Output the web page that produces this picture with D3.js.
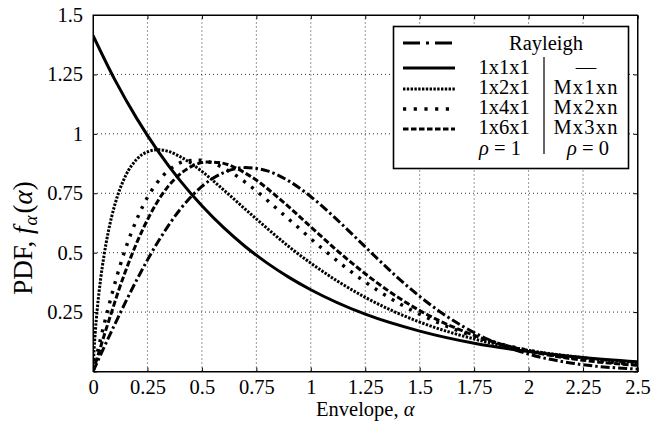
<!DOCTYPE html>
<html>
<head>
<meta charset="utf-8">
<script src="https://cdn.jsdelivr.net/npm/d3@7"></script>
<style>
  body { margin: 0; background: #fff; }
  text { font-family: "Liberation Serif", "Times New Roman", serif; fill: #000; }
</style>
</head>
<body>
<div id="chart"></div>
<script>
// Chart dimensions and margins.
const width = 652;
const height = 425;
const margin = { top: 15, right: 14.5, bottom: 53.5, left: 93 };

// Tick values
const xTicks = [0, 0.25, 0.5, 0.75, 1, 1.25, 1.5, 1.75, 2, 2.25, 2.5];
const yTicks = [0.25, 0.5, 0.75, 1, 1.25, 1.5];

// Curves, [alpha, pdf]
const rayleigh = [[0,0],[0.1,0.198],[0.2,0.384],[0.3,0.548],[0.4,0.682],[0.5,0.779],[0.6,0.837],[0.7,0.858],[0.8,0.844],[0.9,0.801],[1.0,0.736],[1.1,0.656],[1.2,0.569],[1.3,0.480],[1.4,0.394],[1.5,0.316],[1.6,0.247],[1.7,0.189],[1.8,0.141],[1.9,0.103],[2.0,0.073],[2.2,0.035],[2.5,0.010]];
const s1x1x1 = [[0,1.414],[0.1,1.228],[0.2,1.066],[0.3,0.925],[0.4,0.803],[0.5,0.697],[0.6,0.605],[0.7,0.525],[0.8,0.456],[0.9,0.396],[1.0,0.344],[1.25,0.241],[1.5,0.170],[1.75,0.119],[2.0,0.084],[2.25,0.059],[2.5,0.041]];
const s1x2x1 = [[0,0],[0.005,0.094],[0.01,0.161],[0.02,0.267],[0.035,0.389],[0.05,0.485],[0.07,0.587],[0.1,0.701],[0.15,0.824],[0.2,0.892],[0.25,0.924],[0.3,0.933],[0.35,0.925],[0.4,0.904],[0.45,0.876],[0.5,0.842],[0.6,0.764],[0.7,0.682],[0.8,0.602],[0.9,0.525],[1.0,0.456],[1.25,0.312],[1.5,0.208],[1.75,0.137],[2.0,0.089],[2.25,0.058],[2.5,0.037]];
const s1x4x1 = [[0,0],[0.035,0.139],[0.071,0.270],[0.106,0.389],[0.141,0.494],[0.177,0.586],[0.212,0.663],[0.247,0.728],[0.283,0.780],[0.318,0.821],[0.354,0.851],[0.424,0.885],[0.495,0.889],[0.566,0.871],[0.636,0.837],[0.707,0.791],[0.884,0.653],[1.061,0.511],[1.237,0.385],[1.414,0.282],[1.591,0.203],[1.768,0.143],[1.945,0.100],[2.121,0.068],[2.5,0.030]];
const s1x6x1 = [[0,0],[0.029,0.086],[0.058,0.172],[0.087,0.254],[0.115,0.334],[0.144,0.409],[0.173,0.479],[0.202,0.544],[0.231,0.603],[0.260,0.656],[0.289,0.704],[0.346,0.780],[0.404,0.834],[0.462,0.867],[0.520,0.881],[0.577,0.879],[0.722,0.822],[0.866,0.719],[1.010,0.600],[1.155,0.482],[1.299,0.377],[1.443,0.287],[1.732,0.158],[2.021,0.082],[2.309,0.041],[2.5,0.026]];

// Legend rows: [left label, right label]
const legendRows = [
  { data: rayleigh, left: "Rayleigh", right: null },
  { data: s1x1x1, left: "1x1x1", right: "\u2014" },
  { data: s1x2x1, left: "1x2x1", right: "Mx1xn" },
  { data: s1x4x1, left: "1x4x1", right: "Mx2xn" },
  { data: s1x6x1, left: "1x6x1", right: "Mx3xn" }
];

const styles = new Map([
  [rayleigh, { dash: "9,3,2.5,3", legendDash: "17,6,3,6,17,10", w: 3 }],
  [s1x1x1, { dash: null, legendDash: null, w: 3 }],
  [s1x2x1, { dash: "2.4,1.4", legendDash: "2.4,1.4", w: 3 }],
  [s1x4x1, { dash: "3,7", legendDash: "3.2,7.5", w: 3.4 }],
  [s1x6x1, { dash: "6,2.5", legendDash: "5.5,2.5", w: 3 }]
]);

const svg = d3.select("#chart").append("svg")
  .attr("width", width)
  .attr("height", height);

const x = d3.scaleLinear().domain([0, 2.5]).range([margin.left, width - margin.right]);
const y = d3.scaleLinear().domain([0, 1.5]).range([height - margin.bottom, margin.top]);

// Grid
svg.append("g").selectAll("line")
  .data(xTicks.slice(1, -1))
  .join("line")
  .attr("x1", d => x(d)).attr("x2", d => x(d))
  .attr("y1", y(0)).attr("y2", y(1.5))
  .attr("stroke", "#333").attr("stroke-width", 1).attr("stroke-dasharray", "1,3");

svg.append("g").selectAll("line")
  .data(yTicks.slice(0, -1))
  .join("line")
  .attr("x1", x(0)).attr("x2", x(2.5))
  .attr("y1", d => y(d)).attr("y2", d => y(d))
  .attr("stroke", "#333").attr("stroke-width", 1).attr("stroke-dasharray", "1,3");

// Axes
svg.append("g")
  .attr("transform", `translate(0,${y(0)})`)
  .call(d3.axisBottom(x).tickValues(xTicks).tickSize(-4).tickPadding(8).tickFormat(d => d));
svg.append("g")
  .attr("transform", `translate(${x(0)},0)`)
  .call(d3.axisLeft(y).tickValues(yTicks).tickSize(-4).tickPadding(10).tickFormat(d => d));
svg.append("g")
  .attr("transform", `translate(0,${y(1.5)})`)
  .call(d3.axisTop(x).tickValues(xTicks).tickSize(-4).tickFormat(""));
svg.append("g")
  .attr("transform", `translate(${x(2.5)},0)`)
  .call(d3.axisRight(y).tickValues(yTicks).tickSize(-4).tickFormat(""));

svg.selectAll(".domain").attr("stroke", "#000");
svg.selectAll(".tick line").attr("stroke", "#000");
svg.selectAll(".tick text").attr("font-size", 20.5).attr("font-family", "Liberation Serif, serif");

svg.append("rect")
  .attr("x", x(0)).attr("y", y(1.5))
  .attr("width", x(2.5) - x(0)).attr("height", y(0) - y(1.5))
  .attr("fill", "none").attr("stroke", "#000").attr("stroke-width", 1);

// Curves
svg.append("clipPath").attr("id", "clip").append("rect")
  .attr("x", x(0)).attr("y", y(1.5))
  .attr("width", x(2.5) - x(0)).attr("height", y(0) - y(1.5));

const line = d3.line()
  .x(d => x(d[0]))
  .y(d => y(d[1]))
  .curve(d3.curveMonotoneX);

const plot = svg.append("g").attr("clip-path", "url(#clip)");
legendRows.forEach(r => {
  const s = styles.get(r.data);
  plot.append("path")
    .datum(r.data)
    .attr("d", line)
    .attr("fill", "none")
    .attr("stroke", "#000")
    .attr("stroke-width", s.w)
    .attr("stroke-dasharray", s.dash);
});

// Axis titles
const xt = svg.append("text")
  .attr("x", (x(0) + x(2.5)) / 2).attr("y", 416)
  .attr("text-anchor", "middle").attr("font-size", 20.5);
xt.append("tspan").text("Envelope, ");
xt.append("tspan").attr("font-style", "italic").text("\u03b1");

const yt = svg.append("text")
  .attr("transform", "translate(32,238) rotate(-90)")
  .attr("text-anchor", "middle").attr("font-size", 27);
yt.append("tspan").text("PDF, ");
yt.append("tspan").attr("font-style", "italic").text("f");
yt.append("tspan").attr("font-style", "italic").attr("font-size", 19).attr("dy", 5).attr("dx", 1).text("\u03b1");
yt.append("tspan").attr("dy", -5).attr("dx", 2).text("(");
yt.append("tspan").attr("font-style", "italic").text("\u03b1");
yt.append("tspan").text(")");

// Legend
const lg = svg.append("g");
lg.append("rect")
  .attr("x", 393.5).attr("y", 26.5).attr("width", 235).attr("height", 142)
  .attr("fill", "#fff").attr("stroke", "#000").attr("stroke-width", 1.6);

const rowY = [43, 68, 89, 109, 129];
const textY = [50, 74, 94, 114, 134];
legendRows.forEach((r, i) => {
  const s = styles.get(r.data);
  lg.append("line")
    .attr("x1", 403).attr("x2", 455)
    .attr("y1", rowY[i]).attr("y2", rowY[i])
    .attr("stroke", "#000").attr("stroke-width", s.w)
    .attr("stroke-dasharray", s.legendDash);
  lg.append("text")
    .attr("x", r.right === null ? 546 : 504).attr("y", textY[i])
    .attr("text-anchor", "middle").attr("font-size", 20.5)
    .text(r.left);
  if (r.right !== null) {
    lg.append("text")
      .attr("x", 586).attr("y", textY[i])
      .attr("text-anchor", "middle").attr("font-size", 20.5)
      .attr("letter-spacing", r.right.length > 1 ? 1.2 : 0)
      .text(r.right);
  }
});

[[500, "1"], [588, "0"]].forEach(([cx, v]) => {
  const t = lg.append("text").attr("x", cx).attr("y", 155)
    .attr("text-anchor", "middle").attr("font-size", 20.5);
  t.append("tspan").attr("font-style", "italic").text("\u03c1");
  t.append("tspan").text(" = " + v);
});

lg.append("line")
  .attr("x1", 544).attr("x2", 544).attr("y1", 57).attr("y2", 154)
  .attr("stroke", "#000").attr("stroke-width", 1.2);
</script>
</body>
</html>
